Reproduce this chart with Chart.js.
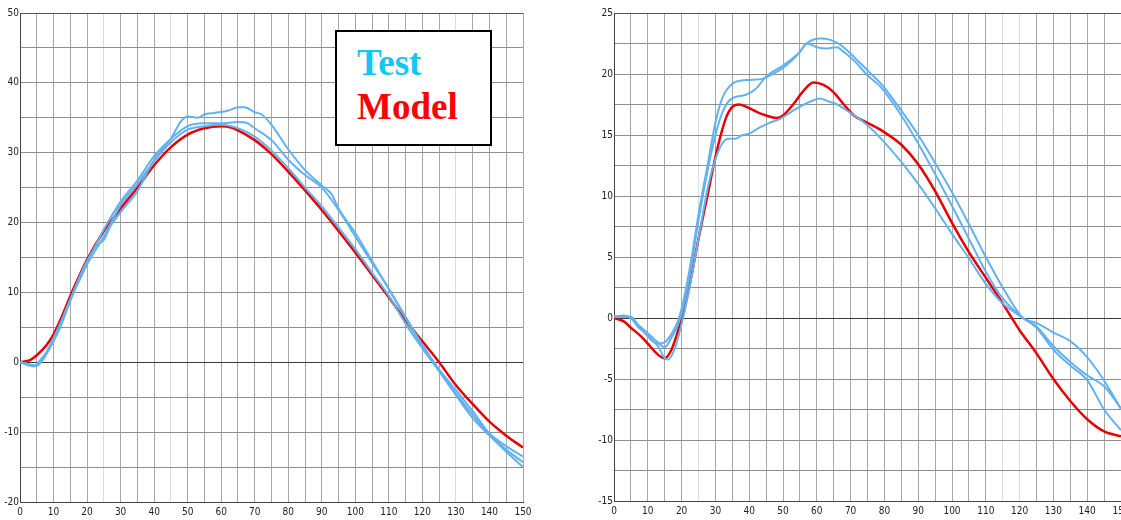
<!DOCTYPE html>
<html>
<head>
<meta charset="utf-8">
<script src="https://cdn.jsdelivr.net/npm/chart.js@4.4.1/dist/chart.umd.min.js"></script>
<style>
  html, body { margin: 0; padding: 0; background: #fff; width: 1121px; height: 520px; overflow: hidden; position: relative; }
  canvas { position: absolute; top: 0; }
  #cL { left: 0; }
  #cR { left: 590px; }
  #legendBox { position: absolute; left: 335px; top: 30px; width: 153px; height: 112px; border: 2px solid #000; background: #fff; z-index: 5; }
  #legendBox span { position: absolute; left: 20px; font-family: "Liberation Serif", "Times New Roman", serif; font-weight: bold; font-size: 37px; line-height: 1; white-space: nowrap; }
  #lgTest { top: 11.5px; color: #14c6f4; }
  #lgModel { top: 55.5px; color: #ff0000; }
</style>
</head>
<body>
<canvas id="cL" width="545" height="520"></canvas>
<canvas id="cR" width="570" height="520"></canvas>
<div id="legendBox"><span id="lgTest">Test</span><span id="lgModel">Model</span></div>
<script>
// ---------- Left chart data ----------
const leftModelX = [0,3,5,8,10,12,15,18,20,25,30,35,40,45,50,55,60,63,65,70,75,80,85,90,95,100,105,110,115,120,125,130,135,140,145,150];
const leftModelY = [0,0.3,1,2.5,4,6,9.5,12.7,14.7,18.8,22,25,28.2,30.8,32.6,33.5,33.8,33.6,33.2,31.8,29.8,27.3,24.6,21.8,18.8,15.7,12.5,9.3,6,3,0,-3.3,-6,-8.5,-10.5,-12.2];

const leftTest1X = [0,2,4,6,8,10,12,15,18,20,23,25,27,30,35,40,45,48,50,53,55,58,62,65,67,70,72,75,80,85,90,93,95,100,105,110,115,120,125,130,135,140,145,150];
const leftTest1Y = [0,-0.2,-0.6,0.3,1.5,3.2,5.5,9,12.5,14.5,16.8,17.5,19.5,21.5,24.5,29,32,34.5,35.2,35,35.5,35.7,36,36.5,36.5,35.8,35.5,34,30.5,27.5,25.3,24,22,18.5,14.5,10.5,6.5,2.5,-1,-4,-7,-10.2,-12,-13.5];

const leftTest2X = [0,3,5,7,10,12,15,18,20,25,30,35,40,45,50,55,60,65,68,70,75,80,85,90,95,100,105,110,115,120,125,130,135,140,145,150];
const leftTest2Y = [0,-0.3,-0.5,0.5,3,5,8.8,12.3,14.3,19,23,26,29.5,32,33.8,34.2,34.2,34.4,34.2,33.5,31.8,29,26.8,25,21.8,18,14.2,10.5,6.3,2.3,-1.2,-4.5,-7.5,-10.3,-12.5,-14.3];

const leftTest3X = [0,3,5,8,10,12,15,18,20,25,30,35,40,45,50,55,60,65,70,75,80,85,90,95,100,105,110,115,120,125,130,135,140,145,150];
const leftTest3Y = [0,-0.5,-0.4,1.5,3.5,5.5,9,12,14,18,22.5,25.5,28.8,31.5,33.3,33.8,34,33.5,32.3,30.3,27.8,25,22.3,19.3,16.2,12.8,9.5,5.5,2,-1.3,-4.7,-8,-10.5,-12.8,-15];

// ---------- Right chart data ----------
const rightModelX = [0,3,5,8,10,13,15,17,19,20,22,25,28,30,33,35,37,40,43,45,48,50,53,56,59,62,65,68,71,75,79,85,90,95,100,105,110,115,120,125,130,135,140,145,150];
const rightModelY = [0,-0.3,-0.8,-1.5,-2.1,-3,-3.3,-2.6,-1,0,2.2,6.5,10.5,13.2,16.3,17.3,17.5,17.2,16.8,16.6,16.4,16.6,17.5,18.6,19.3,19.1,18.5,17.5,16.6,16,15.4,14.2,12.6,10.4,7.8,5.4,3.3,1.2,-1,-2.9,-5,-6.8,-8.3,-9.3,-9.7];

const rightTest1X = [0,3,5,7,9,11,13,15,17,19,21,23,25,28,30,32,35,39,44,47,50,54,57,61,64,67,71,75,79,85,90,95,100,105,110,115,121,125,130,135,139,143,148,150];
const rightTest1Y = [0.1,0.1,0,-0.6,-1.2,-1.8,-2.1,-2,-1.3,-0.2,2,5,8.5,13,16,18,19.2,19.5,19.6,20,20.5,21.5,22.5,22.9,22.8,22.4,21.4,20.3,19.2,17,15,12.7,10.3,7.7,5,2.5,0,-0.4,-1.2,-1.9,-2.9,-4.3,-6.5,-7.5];

const rightTest2X = [0,3,5,7,9,11,13,15,17,19,21,23,25,28,30,32,34.4,39,42,45,50,55,57,60,63,66,68,71,75,79,85,90,95,100,105,110,115,121,125,130,135,140,145,150];
const rightTest2Y = [0.1,0.1,0.1,-0.5,-1,-1.5,-2,-2.4,-1.6,-0.5,1.5,4.5,8,12.5,15,16.8,17.9,18.3,18.8,19.8,20.7,21.8,22.5,22.2,22.1,22.2,21.8,21.1,19.9,18.9,16.6,14.3,11.8,9.2,6.5,3.8,1.6,0,-0.7,-2.3,-3.6,-4.7,-5.6,-7.4];

const rightTest3X = [0,3,5,7,9,11,13,15,16,18,20,22,25,28,30,32,34,36,38,40,43,46,49,53,57,61,63,66,70,75,79,85,90,95,100,105,110,115,121,125,130,135,140,145,150];
const rightTest3Y = [0.1,0.2,0,-0.7,-1.2,-1.7,-2.3,-3.3,-3.4,-2.5,-0.5,2,6.5,11,13,14.3,14.7,14.7,15,15.1,15.6,16,16.3,17,17.6,18,17.8,17.5,16.8,15.8,14.7,12.8,11,9,6.9,4.9,2.8,1.2,0,-0.8,-2.6,-3.9,-5.1,-7.5,-9.2];

// ---------- Tick label settings ----------
const X_LABEL_STEP = 10;
const LEFT_Y_LABEL_STEP = 10;
const RIGHT_Y_LABEL_STEP = 5;

// ---------- styling ----------
const BLUE = '#63b1ef';
const RED = '#e80000';
const LEFT_LIGHT_X = [25, 45, 130];
const RIGHT_LIGHT_X = [25, 115, 120];
const TICK_FONT = { family: "'Liberation Sans Narrow', 'DejaVu Sans Condensed', 'Liberation Sans', sans-serif", size: 10 };

function pts(xs, ys) { return xs.map((x, i) => ({ x: x, y: ys[i] })); }
function ds(xs, ys, color, width) {
  return { data: pts(xs, ys), borderColor: color, borderWidth: width, pointRadius: 0, showLine: true, fill: false, cubicInterpolationMode: 'monotone' };
}

function makeChart(id, datasets, yMin, yMax, yStep, yLabelStep, yWidth, xHeight, padding, lightX) {
  return new Chart(document.getElementById(id), {
    type: 'scatter',
    data: { datasets: datasets },
    options: {
      responsive: false,
      animation: false,
      devicePixelRatio: 1,
      layout: { padding: padding },
      plugins: { legend: { display: false }, tooltip: { enabled: false } },
      scales: {
        x: {
          type: 'linear', min: 0, max: 150,
          afterFit: s => { s.height = xHeight; },
          border: { display: true, color: '#444', width: 1 },
          grid: {
            drawTicks: false,
            lineWidth: 1,
            color: c => (lightX.includes(c.tick.value) ? '#dcdcdc' : '#a6a6a6')
          },
          ticks: {
            stepSize: 5, autoSkip: false, maxRotation: 0, padding: 4,
            font: TICK_FONT, color: '#222',
            callback: v => (v % X_LABEL_STEP === 0 ? String(v) : '')
          }
        },
        y: {
          type: 'linear', min: yMin, max: yMax,
          afterFit: s => { s.width = yWidth; },
          border: { display: true, color: '#444', width: 1 },
          grid: {
            drawTicks: false,
            lineWidth: 1,
            color: c => (c.tick.value === 0 ? '#3a3a3a' : (c.tick.value === yMax ? '#555' : '#8e8e8e'))
          },
          ticks: {
            stepSize: yStep, autoSkip: false, padding: 1,
            font: TICK_FONT, color: '#222',
            callback: v => (Math.abs(v % yLabelStep) < 1e-9 ? String(v) : '')
          }
        }
      }
    }
  });
}

makeChart('cL', [
  ds(leftTest1X, leftTest1Y, BLUE, 2),
  ds(leftTest2X, leftTest2Y, BLUE, 2),
  ds(leftTest3X, leftTest3Y, BLUE, 2),
  ds(leftModelX, leftModelY, RED, 2.5)
], -20, 50, 5, LEFT_Y_LABEL_STEP, 20, 18, { top: 13, right: 22, left: 0, bottom: 0 }, LEFT_LIGHT_X);

makeChart('cR', [
  ds(rightTest1X, rightTest1Y, BLUE, 2),
  ds(rightTest2X, rightTest2Y, BLUE, 2),
  ds(rightTest3X, rightTest3Y, BLUE, 2),
  ds(rightModelX, rightModelY, RED, 2.5)
], -15, 25, 2.5, RIGHT_Y_LABEL_STEP, 24, 19, { top: 13, right: 39, left: 0, bottom: 0 }, RIGHT_LIGHT_X);
</script>
</body>
</html>
